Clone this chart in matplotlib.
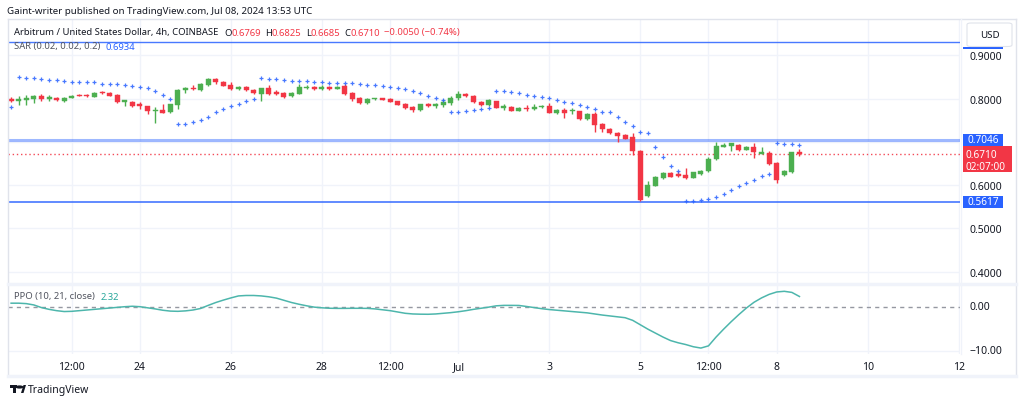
import numpy as np
import pandas as pd
import matplotlib
matplotlib.use("Agg")
import matplotlib.pyplot as plt
import matplotlib.transforms as mtransforms
from matplotlib.patches import Rectangle, FancyBboxPatch, Circle, Polygon
from matplotlib.text import Annotation

# ARB/USD 4h candles
opens = [0.7991, 0.7945, 0.7976, 0.7999, 0.8053, 0.7999, 0.8022, 0.7953, 0.8022, 0.8084,
         0.8076, 0.8045, 0.8153, 0.8138, 0.8084, 0.7930, 0.7930, 0.7853, 0.7822, 0.7706,
         0.7737, 0.7684, 0.7853, 0.8207, 0.8230, 0.8199, 0.8320, 0.8453, 0.8392, 0.8315,
         0.8230, 0.8276, 0.8191, 0.8107, 0.8238, 0.8145, 0.8130, 0.8053, 0.8115, 0.8245,
         0.8261, 0.8222, 0.8276, 0.8222, 0.8284, 0.8130, 0.8022, 0.7891, 0.7984, 0.7999,
         0.7999, 0.7937, 0.7875, 0.7806, 0.7737, 0.7883, 0.7822, 0.7845, 0.7891, 0.8007,
         0.8107, 0.8068, 0.7930, 0.7853, 0.7937, 0.7791, 0.7814, 0.7722, 0.7791, 0.7760,
         0.7799, 0.7837, 0.7660, 0.7737, 0.7714, 0.7706, 0.7529, 0.7645, 0.7413, 0.7298,
         0.7206, 0.7167, 0.7106, 0.6798, 0.5758, 0.5989, 0.6166, 0.6282, 0.6236, 0.6236,
         0.6166, 0.6259, 0.6320, 0.6605, 0.6890, 0.6913, 0.6936, 0.6813, 0.6890, 0.6729,
         0.6744, 0.6505, 0.6244, 0.6297, 0.6769]
highs = [0.8045, 0.8068, 0.8091, 0.8091, 0.8107, 0.8084, 0.8045, 0.8038, 0.8084, 0.8114,
         0.8099, 0.8145, 0.8176, 0.8145, 0.8099, 0.7961, 0.7945, 0.7914, 0.7837, 0.7799,
         0.7876, 0.7883, 0.8222, 0.8261, 0.8315, 0.8369, 0.8477, 0.8468, 0.8400, 0.8392,
         0.8284, 0.8299, 0.8222, 0.8245, 0.8315, 0.8191, 0.8145, 0.8145, 0.8338, 0.8322,
         0.8284, 0.8322, 0.8284, 0.8284, 0.8345, 0.8145, 0.8038, 0.8007, 0.8022, 0.8015,
         0.8015, 0.7953, 0.7891, 0.7837, 0.7883, 0.7899, 0.7899, 0.7991, 0.8068, 0.8184,
         0.8122, 0.8084, 0.7945, 0.7991, 0.7953, 0.7868, 0.7822, 0.7799, 0.7852, 0.7868,
         0.7853, 0.7899, 0.7760, 0.7776, 0.7776, 0.7722, 0.7660, 0.7683, 0.7430, 0.7313,
         0.7221, 0.7183, 0.7198, 0.6813, 0.6105, 0.6220, 0.6297, 0.6313, 0.6336, 0.6398,
         0.6305, 0.6351, 0.6644, 0.6990, 0.6975, 0.6982, 0.6951, 0.6898, 0.6967, 0.6875,
         0.6782, 0.6528, 0.6351, 0.6775, 0.6825]
lows = [0.7914, 0.7853, 0.7853, 0.7899, 0.7953, 0.7937, 0.7937, 0.7922, 0.8015, 0.8053,
        0.8045, 0.8038, 0.8099, 0.8060, 0.7891, 0.7830, 0.7807, 0.7760, 0.7653, 0.7437,
        0.7660, 0.7676, 0.7760, 0.8122, 0.8207, 0.8184, 0.8284, 0.8338, 0.8284, 0.8207,
        0.8199, 0.8176, 0.8099, 0.7937, 0.8091, 0.8084, 0.8022, 0.8038, 0.8115, 0.8222,
        0.8207, 0.8199, 0.8199, 0.8215, 0.8091, 0.7945, 0.7876, 0.7883, 0.7968, 0.7968,
        0.7914, 0.7845, 0.7760, 0.7683, 0.7722, 0.7814, 0.7776, 0.7806, 0.7845, 0.7968,
        0.8045, 0.7899, 0.7837, 0.7837, 0.7775, 0.7745, 0.7714, 0.7714, 0.7706, 0.7737,
        0.7776, 0.7660, 0.7653, 0.7560, 0.7637, 0.7514, 0.7514, 0.7221, 0.7236, 0.7183,
        0.6990, 0.7060, 0.6705, 0.5643, 0.5735, 0.5974, 0.6143, 0.6182, 0.6197, 0.6143,
        0.6159, 0.6244, 0.6297, 0.6582, 0.6875, 0.6782, 0.6798, 0.6806, 0.6628, 0.6713,
        0.6475, 0.6043, 0.6220, 0.6282, 0.6685]
closes = [0.7937, 0.7984, 0.7999, 0.8053, 0.7999, 0.8007, 0.7961, 0.8022, 0.8068, 0.8060,
          0.8053, 0.8138, 0.8122, 0.8068, 0.7922, 0.7945, 0.7837, 0.7837, 0.7706, 0.7730,
          0.7676, 0.7868, 0.8207, 0.8230, 0.8215, 0.8338, 0.8453, 0.8392, 0.8299, 0.8222,
          0.8268, 0.8207, 0.8122, 0.8238, 0.8107, 0.8115, 0.8038, 0.8130, 0.8261, 0.8261,
          0.8222, 0.8276, 0.8215, 0.8276, 0.8107, 0.7991, 0.7891, 0.7991, 0.7999, 0.7976,
          0.7930, 0.7853, 0.7775, 0.7745, 0.7868, 0.7829, 0.7876, 0.7929, 0.8022, 0.8107,
          0.8053, 0.7914, 0.7853, 0.7968, 0.7775, 0.7814, 0.7722, 0.7791, 0.7760, 0.7814,
          0.7837, 0.7675, 0.7745, 0.7675, 0.7737, 0.7529, 0.7645, 0.7398, 0.7298, 0.7206,
          0.7144, 0.7067, 0.6782, 0.5658, 0.6005, 0.6197, 0.6282, 0.6197, 0.6220, 0.6166,
          0.6297, 0.6336, 0.6605, 0.6913, 0.6928, 0.6967, 0.6813, 0.6890, 0.6759, 0.6736,
          0.6482, 0.6120, 0.6336, 0.6759, 0.6710]

# Parabolic SAR (0.02, 0.02, 0.2), one dot per bar
sar = [0.7799, 0.8491, 0.8468, 0.8468, 0.8453, 0.8422, 0.8422, 0.8415, 0.8391, 0.8391,
       0.8376, 0.8376, 0.8345, 0.8338, 0.8338, 0.8322, 0.8299, 0.8268, 0.8238, 0.8176,
       0.8084, 0.7991, 0.7422, 0.7422, 0.7452, 0.7510, 0.7583, 0.7683, 0.7753, 0.7822,
       0.7883, 0.7937, 0.7991, 0.8468, 0.8453, 0.8445, 0.8430, 0.8415, 0.8415, 0.8399,
       0.8391, 0.8376, 0.8361, 0.8353, 0.8353, 0.8353, 0.8338, 0.8322, 0.8315, 0.8291,
       0.8261, 0.8245, 0.8222, 0.8176, 0.8122, 0.8068, 0.8006, 0.7975, 0.7683, 0.7698,
       0.7706, 0.7737, 0.7752, 0.7775, 0.8176, 0.8176, 0.8160, 0.8122, 0.8085, 0.8068,
       0.8029, 0.8006, 0.7970, 0.7930, 0.7891, 0.7845, 0.7806, 0.7752, 0.7683, 0.7683,
       0.7568, 0.7460, 0.7367, 0.7221, 0.7199, 0.6875, 0.6640, 0.6437, 0.6321, 0.5643,
       0.5643, 0.5658, 0.5681, 0.5727, 0.5789, 0.5881, 0.5981, 0.6051, 0.6120, 0.6205,
       0.6259, 0.6967, 0.6955, 0.6945, 0.6934]

# PPO (10, 21, close)
ppo = [0.8, 0.8, 0.7, 0.4, -0.2, -0.6, -0.9, -1.1, -1.05, -0.9,
       -0.75, -0.6, -0.45, -0.3, -0.15, 0.0, 0.1, 0.0, -0.25, -0.5,
       -0.8, -1.0, -1.05, -0.95, -0.75, -0.4, 0.3, 0.95, 1.5, 2.0,
       2.45, 2.55, 2.55, 2.45, 2.25, 1.95, 1.45, 0.95, 0.55, 0.2,
       -0.1, -0.25, -0.35, -0.38, -0.38, -0.36, -0.36, -0.38, -0.5, -0.7,
       -0.9, -1.2, -1.5, -1.65, -1.7, -1.72, -1.65, -1.5, -1.35, -1.15,
       -0.9, -0.6, -0.35, -0.1, 0.2, 0.3, 0.3, 0.28, 0.05, -0.2,
       -0.45, -0.65, -0.8, -0.95, -1.1, -1.25, -1.4, -1.65, -1.9, -2.1,
       -2.3, -2.5, -3.1, -4.1, -5.1, -6.0, -6.9, -7.7, -8.2, -8.6,
       -9.1, -9.4, -8.9, -6.9, -5.1, -3.4, -1.8, -0.3, 1.0, 2.0,
       2.8, 3.35, 3.5, 3.25, 2.32]

bar_start = "2024-06-21 04:00"
tick_times = ["2024-06-22 12:00", "2024-06-24", "2024-06-26", "2024-06-28",
              "2024-06-29 12:00", "2024-07-01", "2024-07-03", "2024-07-05",
              "2024-07-06 12:00", "2024-07-08", "2024-07-10", "2024-07-12"]
tick_labels = ["12:00", "24", "26", "28", "12:00", "Jul", "3", "5", "12:00", "8", "10", "12"]
price_grid = [0.4, 0.5, 0.6, 0.7, 0.8, 0.9]
price_labels = [0.4, 0.5, 0.6, 0.8, 0.9]  # 0.7000 sits under the 0.7046 tag

line_top = 0.9314
line_res = 0.7046
line_sup = 0.5617
last_close = 0.6710
sar_last = 0.6934
ppo_last = 2.32

UP = "#4caf50"
DOWN = "#f23645"
BLUE = "#2962ff"
TXT = "#131722"
GRID = "#f0f3fa"
BORDER = "#e0e3eb"

plt.rcParams["font.family"] = ["Noto Sans", "DejaVu Sans"]

W, H = 1024, 406
fig = plt.figure(figsize=(W / 100, H / 100), dpi=100)
fig.patch.set_facecolor("white")

def fx(px):
    return px / W

def fy(py):
    return 1 - py / H

# pane geometry in pixels (top-origin)
left, right = 8, 960
main_top, main_bot = 20, 284
ppo_top, ppo_bot = 285, 355

ax = fig.add_axes([fx(left), fy(main_bot), fx(right - left), (main_bot - main_top) / H])
ax2 = fig.add_axes([fx(left), fy(ppo_bot), fx(right - left), (ppo_bot - ppo_top) / H], sharex=ax)

idx = np.arange(len(closes))
t0 = pd.Timestamp(bar_start)
tick_pos = [(pd.Timestamp(t) - t0) / pd.Timedelta(hours=4) for t in tick_times]

ax.set_xlim(-0.41, 125.18)
ax.set_ylim(0.37413, 0.98383)
ax2.set_ylim(-10.75, 5.16)
unit = (0.98383 - 0.37413) / (main_bot - main_top)  # price per pixel

for a in (ax, ax2):
    for s in a.spines.values():
        s.set_visible(False)
    a.set_facecolor("white")
    for p in tick_pos:
        a.axvline(p, color=GRID, lw=1, zorder=0)

for p in price_grid:
    ax.axhline(p, color=GRID, lw=1, zorder=0)
ax2.axhline(-10, color=GRID, lw=1, zorder=0)

# candles
o = np.array(opens); c = np.array(closes)
hi = np.array(highs); lo = np.array(lows)
cols = np.where(c >= o, UP, DOWN)
ax.vlines(idx, lo, hi, colors=cols, lw=1, zorder=3)
body_h = np.maximum(np.abs(c - o), unit * 1.2)
ax.bar(idx, body_h, bottom=np.minimum(o, c), width=0.66, color=cols, edgecolor=cols, lw=0.3, zorder=4)

# SAR crosses
ax.plot(idx, sar, ls="none", marker="+", ms=3.0, mew=0.9, color=BLUE, alpha=0.85, zorder=5)

# horizontal levels
ax.axhline(line_top, color=BLUE, lw=1, alpha=0.85, zorder=2)
ax.axhline(line_res, color=BLUE, lw=2.2, alpha=0.45, zorder=2)
ax.axhline(line_sup, color=BLUE, lw=1.3, alpha=0.8, zorder=2)
ax.axhline(last_close, color=DOWN, lw=1, ls=(0, (1, 2)), alpha=0.9, zorder=2)

# price scale
ax.yaxis.tick_right()
ax.set_yticks(price_labels)
ax.set_yticklabels(["%.4f" % p for p in price_labels])
ax.tick_params(axis="y", length=0, pad=7.2, labelsize=7.5, labelcolor=TXT)
ax.tick_params(axis="x", bottom=False, labelbottom=False)

ax2.set_yticks([])
ax2.set_xticks(tick_pos)
ax2.set_xticklabels(tick_labels)
ax2.tick_params(axis="x", length=0, pad=5, labelsize=7.5, labelcolor=TXT)

# PPO pane
ax2.plot(idx, ppo, color="#4db6ac", lw=1.1, zorder=3)
ax2.axhline(0, color="#9598a1", lw=1, ls=(0, (3, 3)), zorder=2)
blend2 = mtransforms.blended_transform_factory(fig.transFigure, ax2.transData)
clip = mtransforms.TransformedBbox(
    mtransforms.Bbox([[fx(right), fy(ppo_bot)], [1, fy(ppo_top)]]), fig.transFigure)
for v, s in [(0, "0.00"), (-10, "\u221210.00")]:
    t = ax2.text(fx(970), v, s, transform=blend2, fontsize=7.5, color=TXT, va="center", ha="left")
    t.set_clip_box(clip)
    t.set_clip_on(True)

# price labels on the scale
blend = mtransforms.blended_transform_factory(fig.transFigure, ax.transData)
for v in (line_res, line_sup):
    ax.add_patch(Rectangle((fx(963), v - 6 * unit), fx(40), 12 * unit, transform=blend,
                           facecolor=BLUE, edgecolor="none", clip_on=False, zorder=6))
    ax.text(fx(983), v, "%.4f" % v, transform=blend, color="white", fontsize=7.2,
            ha="center", va="center", zorder=7)
ax.add_patch(Rectangle((fx(963), last_close - 17.5 * unit), fx(49), 26 * unit, transform=blend,
                       facecolor=DOWN, edgecolor="none", clip_on=False, zorder=6))
ax.text(fx(966), last_close - 0.5 * unit, "%.4f" % last_close, transform=blend, color="white",
        fontsize=7.2, ha="left", va="center", zorder=7)
ax.text(fx(966), last_close - 12 * unit, "02:07:00", transform=blend, color="white",
        fontsize=7.2, ha="left", va="center", zorder=7)
# edge of the hidden label of the top line, peeking out under the USD button
ax.add_patch(Rectangle((fx(963), line_top - 7 * unit), fx(40), 1.6 * unit, transform=blend,
                       facecolor=BLUE, edgecolor="none", clip_on=False, zorder=6))

# USD button
fig.add_artist(FancyBboxPatch((fx(967), fy(47.5)), fx(45), (47.5 - 24) / H,
                              boxstyle="round,pad=0,rounding_size=0.004",
                              facecolor="white", edgecolor=BORDER, lw=0.8,
                              transform=fig.transFigure, zorder=10))
fig.text(fx(989.5), fy(35.5), "USD", fontsize=7, color=TXT, ha="center", va="center", zorder=11)

# frame lines
fig.add_artist(plt.Line2D([fx(7.5), fx(7.5)], [fy(20), fy(377)], color=BORDER, lw=1))
fig.add_artist(plt.Line2D([fx(7.5), fx(1016)], [fy(20), fy(20)], color=BORDER, lw=1))
fig.add_artist(plt.Line2D([fx(1016), fx(1016)], [fy(20), fy(377)], color=BORDER, lw=1))
fig.add_artist(plt.Line2D([fx(7.5), fx(1016)], [fy(284.5), fy(284.5)], color=GRID, lw=2.5))
fig.add_artist(plt.Line2D([fx(7.5), fx(1016)], [fy(377), fy(377)], color=GRID, lw=2.5))
fig.add_artist(plt.Line2D([fx(960.5), fx(960.5)], [fy(20), fy(355)], color=GRID, lw=1))

# header texts, each part placed right after the previous one
def text_row(x, y, parts, size):
    prev = fig.text(fx(x), fy(y), parts[0][0], color=parts[0][1], fontsize=size,
                    ha="left", va="center", zorder=20)
    for s, col, gap in parts[1:]:
        ann = Annotation(s, xy=(1, 0), xycoords=prev, xytext=(gap, 0),
                         textcoords="offset points", color=col, fontsize=size,
                         ha="left", va="bottom", zorder=20)
        fig.add_artist(ann)
        prev = ann
    return prev

fig.text(fx(7), fy(12), "Gaint-writer published on TradingView.com, Jul 08, 2024 13:53 UTC",
         fontsize=7, color=TXT, ha="left", va="center")
text_row(14, 33, [("Arbitrum / United States Dollar, 4h, COINBASE", TXT),
                  ("O", TXT, 4), ("0.6769", DOWN, 0), ("H", TXT, 3), ("0.6825", DOWN, 0),
                  ("L", TXT, 3), ("0.6685", DOWN, 0), ("C", TXT, 3), ("0.6710", DOWN, 0),
                  ("\u22120.0050 (\u22120.74%)", DOWN, 3)], 6.8)
text_row(14, 47, [("SAR (0.02, 0.02, 0.2)", "#50535e"), ("%.4f" % sar_last, BLUE, 4)], 6.8)
text_row(14, 297, [("PPO (10, 21, close)", "#50535e"), ("%.2f" % ppo_last, "#26a69a", 4)], 6.8)

# TradingView logo
fig.add_artist(Rectangle((fx(10), fy(389)), fx(7), 3 / H, transform=fig.transFigure,
                         facecolor=TXT, edgecolor="none"))
fig.add_artist(Rectangle((fx(13), fy(394)), fx(3), 8 / H, transform=fig.transFigure,
                         facecolor=TXT, edgecolor="none"))
fig.add_artist(Circle((fx(19.5), fy(388)), 1.6 / H, transform=fig.transFigure,
                      facecolor=TXT, edgecolor="none"))
fig.add_artist(Polygon([[fx(21), fy(394)], [fx(23.5), fy(386)], [fx(26), fy(386)], [fx(23.5), fy(394)]],
                       closed=True, transform=fig.transFigure, facecolor=TXT, edgecolor="none"))
fig.text(fx(28), fy(390.5), "TradingView", fontsize=7.5, color=TXT, ha="left", va="center")

fig.savefig("out.png", dpi=100, facecolor="white")
